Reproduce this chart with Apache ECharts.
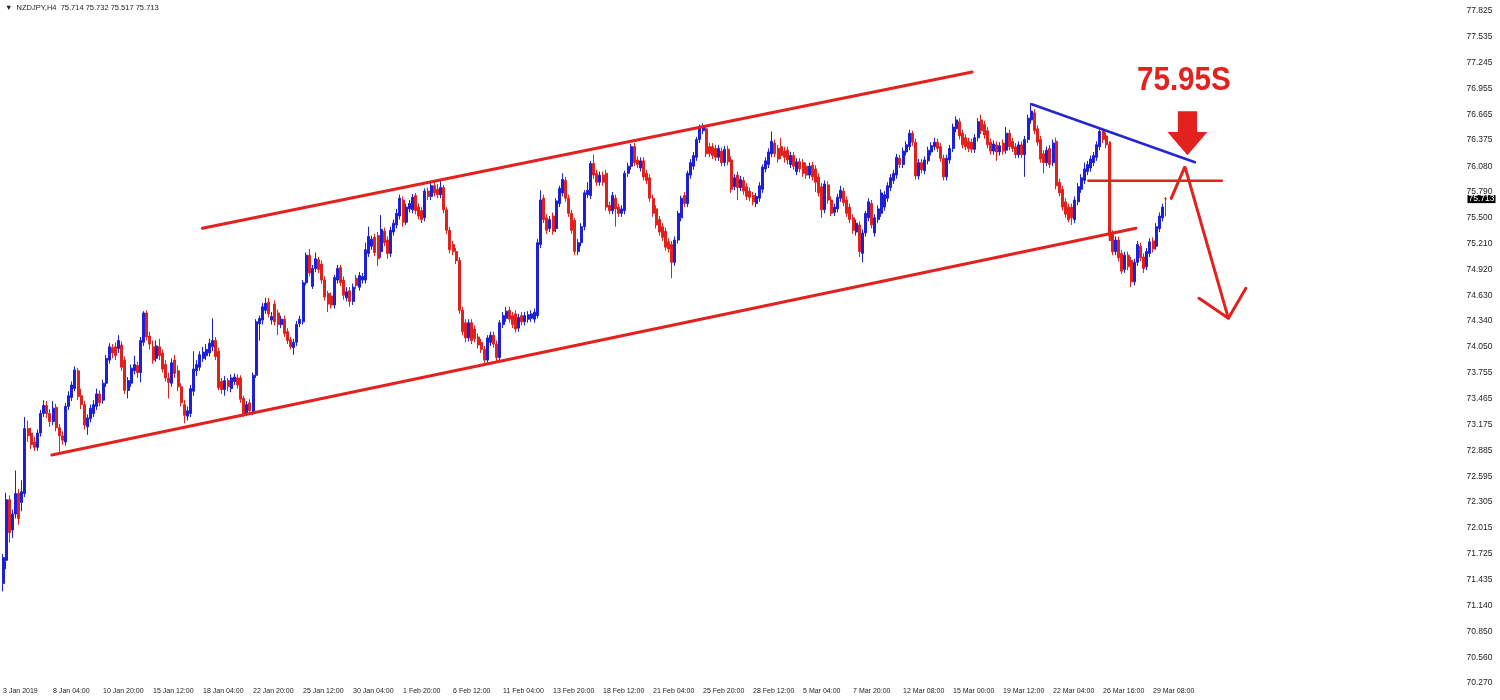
<!DOCTYPE html>
<html><head><meta charset="utf-8">
<script src="https://cdn.jsdelivr.net/npm/echarts@6/dist/echarts.min.js"></script>
<style>html,body{margin:0;padding:0;background:#fff}#c{width:1500px;height:700px}</style>
</head><body><div id="c"></div>
<script>
const SYMBOL = 'NZDJPY,H4';
const X_LABELS = ['3 Jan 2019','8 Jan 04:00','10 Jan 20:00','15 Jan 12:00','18 Jan 04:00','22 Jan 20:00','25 Jan 12:00','30 Jan 04:00','1 Feb 20:00','6 Feb 12:00','11 Feb 04:00','13 Feb 20:00','18 Feb 12:00','21 Feb 04:00','25 Feb 20:00','28 Feb 12:00','5 Mar 04:00','7 Mar 20:00','12 Mar 08:00','15 Mar 00:00','19 Mar 12:00','22 Mar 04:00','26 Mar 16:00','29 Mar 08:00'];
const Y_TICK_LABELS = ['77.825','77.535','77.245','76.955','76.665','76.375','76.080','75.790','75.500','75.210','74.920','74.630','74.340','74.050','73.755','73.465','73.175','72.885','72.595','72.305','72.015','71.725','71.435','71.140','70.850','70.560','70.270'];
// H4 candles: [open, close, low, high]
const OHLC = [
[71.39,71.68,71.30,71.72],[71.65,72.33,71.55,72.41],[72.33,71.96,71.85,72.38],[71.99,72.17,71.90,72.22],[72.17,72.40,72.12,72.66],
[72.40,72.12,72.05,72.45],[72.30,72.42,72.20,72.55],[72.40,73.13,72.36,73.26],[73.13,73.05,72.98,73.22],[73.08,72.95,72.90,73.14],
[72.98,72.92,72.88,73.04],[72.92,73.08,72.88,73.12],[73.08,73.30,73.04,73.34],[73.30,73.39,73.26,73.45],[73.39,73.30,73.25,73.44],
[73.30,73.21,73.15,73.35],[73.21,73.36,73.17,73.44],[73.37,73.14,73.10,73.41],[73.14,73.05,72.87,73.18],[73.05,73.00,72.95,73.10],
[72.98,73.38,72.94,73.42],[73.38,73.50,73.34,73.55],[73.48,73.62,73.44,73.66],[73.58,73.79,73.55,73.83],[73.78,73.49,73.45,73.81],
[73.50,73.40,73.35,73.58],[73.40,73.17,73.12,73.44],[73.15,73.25,73.06,73.29],[73.24,73.36,73.20,73.40],[73.30,73.40,73.26,73.45],
[73.38,73.52,73.34,73.58],[73.52,73.42,73.38,73.56],[73.45,73.64,73.41,73.68],[73.64,73.92,73.60,73.96],[73.90,74.05,73.86,74.09],
[74.04,73.98,73.92,74.08],[74.05,73.95,73.90,74.10],[74.03,74.12,73.98,74.18],[74.07,73.82,73.78,74.11],[73.90,73.56,73.52,73.94],
[73.56,73.67,73.47,73.71],[73.64,73.81,73.60,73.85],[73.78,73.85,73.74,73.95],[73.84,73.76,73.70,73.88],[73.76,74.12,73.65,74.16],
[74.10,74.43,74.06,74.45],[74.43,74.16,74.12,74.46],[74.17,74.08,74.02,74.22],[74.05,73.90,73.86,74.12],[73.92,74.06,73.88,74.12],
[74.05,73.95,73.90,74.14],[73.98,73.80,73.76,74.02],[73.85,73.70,73.66,73.90],[73.70,73.65,73.47,73.76],[73.64,73.87,73.60,73.92],
[73.90,73.75,73.70,73.96],[73.78,73.60,73.55,73.84],[73.60,73.42,73.38,73.64],[73.40,73.28,73.19,73.45],[73.27,73.33,73.22,73.38],
[73.30,73.58,73.26,73.62],[73.55,73.80,73.50,74.00],[73.78,73.85,73.72,73.90],[73.82,73.96,73.78,74.00],[73.92,73.99,73.88,74.05],
[73.95,74.02,73.90,74.08],[73.98,74.09,73.94,74.14],[74.05,74.12,74.00,74.37],[74.12,73.94,73.90,74.16],[74.00,73.59,73.56,74.04],
[73.66,73.57,73.52,73.70],[73.57,73.67,73.50,73.72],[73.67,73.60,73.55,73.70],[73.58,73.70,73.54,73.74],[73.66,73.71,73.62,73.75],
[73.70,73.62,73.58,73.74],[73.70,73.46,73.42,73.73],[73.47,73.30,73.26,73.50],[73.29,73.40,73.27,73.44],[73.42,73.33,73.30,73.46],
[73.32,73.73,73.28,73.76],[73.73,74.33,73.70,74.36],[74.31,74.37,74.12,74.40],[74.35,74.50,74.30,74.54],[74.46,74.54,74.42,74.60],
[74.55,74.42,74.38,74.60],[74.35,74.39,74.30,74.44],[74.53,74.33,74.29,74.57],[74.43,74.30,74.18,74.47],[74.30,74.36,74.26,74.40],
[74.36,74.20,74.16,74.40],[74.22,74.12,74.08,74.26],[74.13,74.05,74.02,74.16],[74.04,74.10,73.96,74.14],[74.10,74.30,74.06,74.34],
[74.31,74.36,74.27,74.40],[74.33,74.77,74.30,74.80],[74.77,75.08,74.74,75.11],[75.08,74.88,74.84,75.15],[74.73,74.93,74.70,74.97],
[74.93,75.04,74.89,75.11],[75.03,74.92,74.88,75.06],[74.98,74.80,74.76,75.02],[74.80,74.61,74.57,74.84],[74.65,74.53,74.44,74.68],
[74.62,74.52,74.48,74.66],[74.52,74.83,74.48,74.86],[74.80,74.93,74.76,74.97],[74.94,74.77,74.73,74.97],[74.80,74.63,74.58,74.84],
[74.60,74.67,74.56,74.72],[74.68,74.56,74.50,74.72],[74.56,74.72,74.52,74.76],[74.82,74.74,74.70,74.86],[74.72,74.85,74.68,74.89],
[74.80,74.84,74.76,74.88],[74.80,75.14,74.76,75.22],[75.10,75.29,75.06,75.40],[75.18,75.26,75.14,75.30],[75.28,75.11,75.07,75.32],
[75.30,75.04,74.96,75.34],[75.12,75.37,75.05,75.53],[75.35,75.22,75.18,75.39],[75.25,75.10,75.04,75.29],[75.10,75.36,75.06,75.40],
[75.34,75.44,75.30,75.48],[75.42,75.55,75.38,75.60],[75.52,75.72,75.48,75.76],[75.70,75.45,75.40,75.74],[75.45,75.62,75.42,75.66],
[75.60,75.66,75.56,75.70],[75.59,75.73,75.55,75.77],[75.75,75.58,75.54,75.78],[75.62,75.52,75.48,75.66],[75.58,75.48,75.44,75.62],
[75.50,75.80,75.46,75.83],[75.80,75.74,75.70,75.84],[75.74,75.86,75.70,75.89],[75.86,75.78,75.74,75.90],[75.82,75.76,75.72,75.88],
[75.76,75.84,75.72,75.92],[75.84,75.59,75.55,75.87],[75.59,75.36,75.32,75.62],[75.36,75.14,75.10,75.40],[75.20,75.12,75.08,75.24],
[75.12,75.02,74.98,75.16],[75.02,74.46,74.42,75.06],[74.46,74.22,74.18,74.50],[74.32,74.15,74.10,74.36],[74.15,74.32,74.11,74.36],
[74.32,74.12,74.08,74.36],[74.25,74.14,74.10,74.29],[74.16,74.07,74.03,74.20],[74.10,74.02,73.98,74.14],[74.02,73.90,73.84,74.06],
[73.90,74.15,73.87,74.18],[74.10,74.18,74.06,74.22],[74.18,74.08,74.04,74.22],[74.08,73.93,73.88,74.12],[73.93,74.32,73.90,74.35],
[74.30,74.40,74.26,74.44],[74.37,74.45,74.33,74.50],[74.46,74.36,74.32,74.50],[74.40,74.30,74.26,74.44],[74.42,74.25,74.21,74.46],
[74.26,74.38,74.22,74.42],[74.40,74.33,74.29,74.44],[74.33,74.40,74.29,74.44],[74.36,74.41,74.32,74.45],[74.37,74.42,74.33,74.46],
[74.36,74.44,74.32,74.48],[74.40,75.22,74.37,75.26],[75.20,75.70,75.16,75.81],[75.72,75.48,75.44,75.76],[75.50,75.36,75.32,75.54],
[75.38,75.48,75.34,75.52],[75.52,75.35,75.31,75.56],[75.38,75.69,75.34,75.72],[75.66,75.83,75.62,75.86],[75.78,75.93,75.74,76.00],
[75.92,75.72,75.68,75.96],[75.72,75.55,75.51,75.76],[75.55,75.36,75.32,75.59],[75.47,75.12,75.08,75.50],[75.12,75.22,75.08,75.26],
[75.22,75.40,75.18,75.44],[75.40,75.78,75.36,75.81],[75.76,75.81,75.72,75.90],[75.75,76.11,75.71,76.14],[76.11,75.98,75.94,76.21],
[76.00,75.90,75.86,76.04],[75.90,75.98,75.86,76.02],[75.98,75.90,75.86,76.02],[76.00,75.62,75.58,76.04],[75.64,75.58,75.54,75.68],
[75.58,75.75,75.54,75.79],[75.72,75.60,75.40,75.76],[75.62,75.55,75.51,75.66],[75.55,75.60,75.51,75.64],[75.58,76.00,75.54,76.03],
[76.00,76.08,75.96,76.12],[76.08,76.30,76.04,76.33],[76.30,76.12,76.08,76.34],[76.15,76.10,76.06,76.19],[76.06,76.14,76.02,76.18],
[76.14,75.96,75.92,76.18],[76.00,75.92,75.88,76.04],[75.95,75.72,75.68,75.99],[75.72,75.55,75.51,75.76],[75.60,75.42,75.38,75.64],
[75.48,75.34,75.30,75.52],[75.40,75.28,75.24,75.44],[75.35,75.17,75.13,75.39],[75.23,75.15,75.11,75.27],[75.20,75.00,74.82,75.24],
[75.00,75.25,74.96,75.29],[75.25,75.55,75.21,75.58],[75.50,75.72,75.46,75.75],[75.75,75.66,75.62,75.79],[75.66,76.00,75.62,76.03],
[75.98,76.12,75.94,76.16],[76.08,76.20,76.04,76.24],[76.18,76.38,76.14,76.41],[76.38,76.52,76.34,76.55],[76.48,76.53,76.44,76.56],
[76.50,76.22,76.18,76.54],[76.30,76.22,76.18,76.34],[76.30,76.20,76.16,76.34],[76.28,76.18,76.14,76.32],[76.18,76.28,76.14,76.32],
[76.25,76.12,76.08,76.29],[76.12,76.27,76.08,76.31],[76.27,76.13,76.09,76.31],[76.15,75.82,75.78,76.19],[75.85,75.95,75.81,75.99],
[75.98,75.84,75.70,76.02],[75.84,75.93,75.80,75.97],[75.92,75.80,75.76,75.96],[75.85,75.74,75.70,75.89],[75.80,75.73,75.69,75.84],
[75.75,75.68,75.64,75.79],[75.66,75.74,75.62,75.78],[75.72,75.86,75.68,75.90],[75.82,76.07,75.78,76.10],[76.05,76.14,76.01,76.18],
[76.10,76.24,76.06,76.28],[76.22,76.36,76.18,76.47],[76.34,76.22,76.18,76.38],[76.28,76.16,76.12,76.32],[76.30,76.20,76.16,76.40],
[76.25,76.18,76.12,76.30],[76.26,76.15,76.10,76.30],[76.10,76.20,76.06,76.24],[76.20,76.08,76.04,76.24],[76.02,76.13,75.98,76.17],
[76.13,76.05,76.01,76.17],[76.12,76.00,75.96,76.16],[76.08,75.98,75.94,76.12],[75.98,76.08,75.94,76.12],[76.09,75.96,75.92,76.13],
[76.05,75.90,75.79,76.09],[75.96,75.78,75.74,76.00],[75.85,75.59,75.50,75.89],[75.59,75.88,75.55,75.92],[75.87,75.70,75.66,75.91],
[75.70,75.55,75.52,75.74],[75.56,75.62,75.52,75.66],[75.60,75.73,75.56,75.77],[75.72,75.81,75.68,75.86],[75.80,75.67,75.63,75.84],
[75.70,75.55,75.51,75.74],[75.62,75.48,75.44,75.66],[75.50,75.36,75.32,75.54],[75.34,75.44,75.30,75.48],[75.42,75.12,75.06,75.46],
[75.10,75.33,75.00,75.37],[75.33,75.55,75.29,75.58],[75.50,75.68,75.46,75.72],[75.66,75.42,75.38,75.70],[75.33,75.50,75.29,75.54],
[75.48,75.60,75.44,75.64],[75.55,75.78,75.51,75.82],[75.62,75.76,75.58,75.80],[75.72,75.86,75.68,75.90],[75.84,75.95,75.80,75.99],
[75.92,76.00,75.88,76.04],[75.98,76.18,75.94,76.22],[76.17,76.10,76.06,76.21],[76.10,76.25,76.06,76.29],[76.24,76.32,76.20,76.36],
[76.30,76.45,76.26,76.49],[76.45,76.35,76.31,76.48],[76.35,75.97,75.93,76.39],[75.97,76.12,75.93,76.16],[76.12,76.04,76.00,76.16],
[76.03,76.15,75.99,76.19],[76.14,76.26,76.10,76.30],[76.24,76.31,76.20,76.35],[76.30,76.35,76.26,76.40],[76.35,76.28,76.24,76.39],
[76.30,76.17,76.13,76.34],[76.17,75.96,75.92,76.21],[75.96,76.17,75.92,76.21],[76.15,76.28,76.11,76.32],[76.28,76.52,76.24,76.56],
[76.50,76.60,76.46,76.64],[76.58,76.42,76.38,76.62],[76.45,76.32,76.28,76.49],[76.40,76.30,76.26,76.44],[76.36,76.28,76.24,76.40],
[76.35,76.27,76.23,76.39],[76.27,76.40,76.23,76.44],[76.40,76.58,76.36,76.62],[76.60,76.48,76.44,76.66],[76.55,76.43,76.39,76.59],
[76.48,76.32,76.28,76.52],[76.35,76.25,76.21,76.39],[76.25,76.33,76.21,76.37],[76.32,76.24,76.14,76.36],[76.24,76.31,76.20,76.35],
[76.34,76.25,76.21,76.38],[76.26,76.45,76.22,76.52],[76.45,76.30,76.26,76.49],[76.36,76.28,76.24,76.40],[76.30,76.21,76.17,76.34],
[76.21,76.32,76.17,76.36],[76.32,76.21,76.17,76.36],[76.21,76.38,75.96,76.42],[76.38,76.62,76.34,76.66],[76.60,76.70,76.56,76.79],
[76.68,76.48,76.44,76.72],[76.50,76.35,76.31,76.54],[76.38,76.16,76.12,76.42],[76.22,76.12,76.00,76.26],[76.12,76.26,76.08,76.30],
[76.28,76.10,76.06,76.32],[76.12,76.34,76.08,76.38],[76.36,75.86,75.82,76.40],[75.90,75.78,75.74,75.94],[75.82,75.62,75.58,75.86],
[75.68,75.54,75.50,75.72],[75.62,75.48,75.45,75.66],[75.62,75.50,75.42,75.66],[75.48,75.70,75.44,75.74],[75.68,75.85,75.64,75.89],
[75.82,75.95,75.78,75.99],[75.92,76.05,75.88,76.12],[76.02,76.10,75.98,76.14],[76.06,76.16,76.02,76.20],[76.12,76.20,76.08,76.24],
[76.18,76.32,76.14,76.36],[76.30,76.47,76.26,76.50],[76.47,76.38,76.34,76.51],[76.42,76.32,76.28,76.46],[76.32,75.30,75.26,76.36],
[75.32,75.12,75.08,75.36],[75.12,75.25,75.08,75.29],[75.25,75.05,75.01,75.29],[75.10,74.90,74.87,75.14],[74.92,75.08,74.88,75.12],
[75.08,74.95,74.91,75.12],[75.02,74.78,74.72,75.06],[74.78,75.00,74.74,75.04],[75.00,75.20,74.96,75.24],[75.18,75.05,75.01,75.22],
[75.06,74.93,74.88,75.10],[74.95,75.12,74.91,75.16],[75.10,75.23,75.06,75.27],[75.24,75.15,75.11,75.28],[75.18,75.40,75.14,75.44],
[75.38,75.52,75.34,75.56],[75.50,75.62,75.46,75.66],[75.714,75.713,75.517,75.732]
];
// drawn annotations in [bar index, price]
const UPPER_CHANNEL = [[63.8, 75.382], [310.1, 77.139]];
const LOWER_CHANNEL = [[15.6, 72.833], [362.5, 75.382]];
const BLUE_TREND = [[329.2, 76.776], [381.4, 76.124]];
const H_LEVEL = [[347.3, 75.917], [390.0, 75.917]];
const V_DROP = [[354.2, 76.344], [354.2, 75.251]];
const ARROW_PATH = [[373.8, 75.719], [378.2, 76.075], [392.1, 74.370]];
const ARROW_HEAD = [[382.7, 74.595], [392.1, 74.370], [397.7, 74.708]];
const DOWN_ARROW = [[379.0, 76.450]];
const TARGET_TEXT = '75.95S';

const N_SLOTS = 464, BARS_PER_LABEL = 16;
const slots = Array.from({length: N_SLOTS}, (_, i) => String(i));
const last = OHLC[OHLC.length - 1];
const RED = '#e3221f', BULL = '#1c20d8', BEAR = '#e2201c', TBLUE = '#2626cc';
const chart = echarts.init(document.getElementById('c'), null, {renderer: 'canvas'});
function seg(data, color, width) {
  return {type: 'line', xAxisIndex: 1, yAxisIndex: 0, data: data, symbol: 'none', silent: true,
    animation: false, lineStyle: {color: color, width: width, cap: 'round'}, z: 5};
}
chart.setOption({
  animation: false,
  backgroundColor: '#fff',
  grid: {left: 1.5, width: 1450, top: 2, bottom: 16, outerBoundsMode: 'none', containLabel: false},
  xAxis: [{
    type: 'category', data: slots, boundaryGap: true,
    axisLine: {show: false}, axisTick: {show: false}, splitLine: {show: false},
    axisLabel: {
      interval: (i) => i % BARS_PER_LABEL === 0 && i / BARS_PER_LABEL < X_LABELS.length,
      formatter: (v, i) => X_LABELS[i / BARS_PER_LABEL] || '',
      align: 'left', fontSize: 7, color: '#222', margin: 4, fontFamily: 'Liberation Sans'
    }
  }, {type: 'value', min: -0.5, max: N_SLOTS - 0.5, show: false}],
  yAxis: {
    type: 'value', position: 'right', min: 70.259, max: 77.926,
    axisLine: {show: false}, axisTick: {show: false}, splitLine: {show: false},
    axisLabel: {customValues: Y_TICK_LABELS.map(Number), formatter: (v) => Number(v).toFixed(3),
      fontSize: 8.5, color: '#222', margin: 15, fontFamily: 'Liberation Sans'}
  },
  graphic: [
    {type: 'text', x: 5, y: 8, style: {text: '\u25BC  ' + SYMBOL + '  ' + last[0].toFixed(3) + ' ' + last[3].toFixed(3) + ' ' + last[2].toFixed(3) + ' ' + last[1].toFixed(3),
      fontSize: 7.5, fontFamily: 'Liberation Sans', fill: '#222', verticalAlign: 'middle'}},
    {type: 'text', x: 1137, y: 81, scaleX: 0.87, z: 10, style: {text: TARGET_TEXT, fontSize: 34, fontWeight: 'bold',
      fontFamily: 'Liberation Sans', fill: RED, verticalAlign: 'middle'}}
  ],
  series: [
    {
      type: 'candlestick', data: OHLC, barWidth: 2.5, silent: true,
      itemStyle: {color: BULL, color0: BEAR, borderColor: BULL, borderColor0: BEAR, borderWidth: 1},
      markLine: {
        symbol: 'none', silent: true, animation: false,
        data: [{yAxis: last[1]}],
        lineStyle: {color: 'rgba(0,0,0,0)', width: 1, type: 'solid'},
        label: {show: true, position: 'end', distance: 16, formatter: () => last[1].toFixed(3),
          backgroundColor: '#000', color: '#fff', fontSize: 8.5, lineHeight: 8, padding: [0, 1], fontFamily: 'Liberation Sans'},
        emphasis: {disabled: true}
      }
    },
    seg(UPPER_CHANNEL, RED, 3),
    seg(LOWER_CHANNEL, RED, 3),
    seg(BLUE_TREND, TBLUE, 2.5),
    seg(H_LEVEL, RED, 2.5),
    seg(V_DROP, RED, 2.5),
    seg(ARROW_PATH, RED, 3),
    seg(ARROW_HEAD, RED, 3),
    {type: 'scatter', xAxisIndex: 1, yAxisIndex: 0, data: DOWN_ARROW, silent: true, z: 6,
      symbol: 'path://M26,0L74,0L74,47L100,47L50,100L0,47L26,47Z', symbolSize: [40, 44], symbolKeepAspect: false,
      itemStyle: {color: RED, opacity: 1}}
  ]
});
</script></body></html>
